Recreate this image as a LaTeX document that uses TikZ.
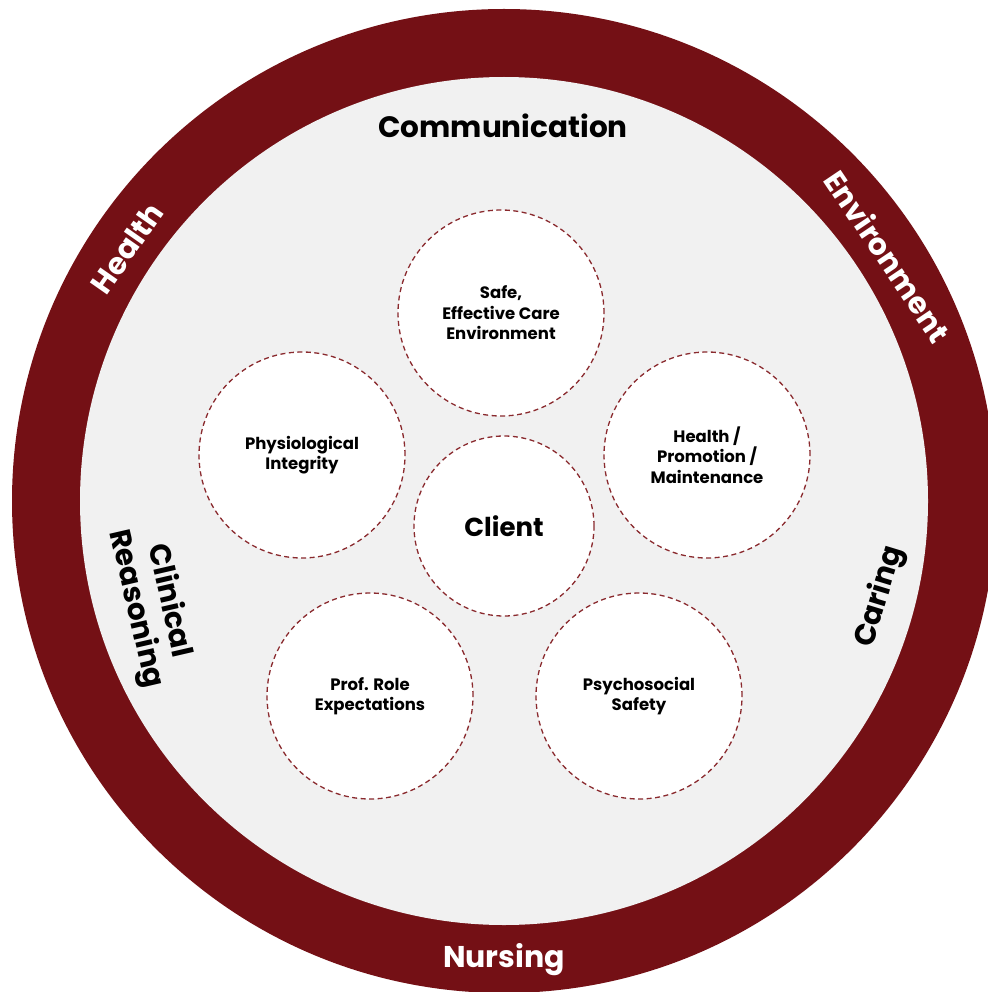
\documentclass[tikz,border=0pt]{standalone}
\usepackage{fontspec}
\setmainfont{Poppins}
\definecolor{ringcol}{HTML}{741015}
\definecolor{innercol}{HTML}{F1F1F1}
\definecolor{dashcol}{HTML}{8A2A2E}
\begin{document}
\begin{tikzpicture}[x=1pt,y=-1pt,
  domaincircle/.style={draw=dashcol,dash pattern=on 5pt off 3.5pt,line width=1.3pt,fill=white,circle,minimum size=206pt,inner sep=0pt,align=center,font=\fontsize{16.5}{20.5}\selectfont\bfseries},
  ringlabel/.style={text=white,font=\fontsize{30}{34}\selectfont\bfseries},
  innerlabel/.style={text=black,font=\fontsize{29.5}{34}\selectfont\bfseries,align=center}]
\useasboundingbox (0,0) rectangle (987,992);
\fill[white] (0,0) rectangle (987,992);
\fill[ringcol] (504,501) circle (492);
\fill[innercol] (504,501) circle (424);
\node[domaincircle] (safe) at (501,313) {Safe,\\Effective Care\\Environment};
\node[domaincircle] (phys) at (302,455) {Physiological\\Integrity};
\node[domaincircle] (prom) at (707,455) {Health /\\Promotion /\\Maintenance};
\node[domaincircle] (prof) at (370,696) {Prof. Role\\Expectations};
\node[domaincircle] (psy) at (639,696) {Psychosocial\\Safety};
\node[domaincircle,minimum size=180pt,font=\fontsize{26}{30}\selectfont\bfseries] (client) at (504,526) {Client};
\node[innerlabel] (comm) at (503,126) {Communication};
\node[ringlabel] (nurs) at (504,960) {Nursing};
\node[ringlabel,rotate=55] (health) at (127,248) {Health};
\node[ringlabel,rotate=-56] (env) at (888,256) {Environment};
\node[innerlabel,rotate=73] (caring) at (880,597) {Caring};
\node[innerlabel,rotate=-77] (clin) at (152,605) {Clinical\\Reasoning};
\end{tikzpicture}
\end{document}
